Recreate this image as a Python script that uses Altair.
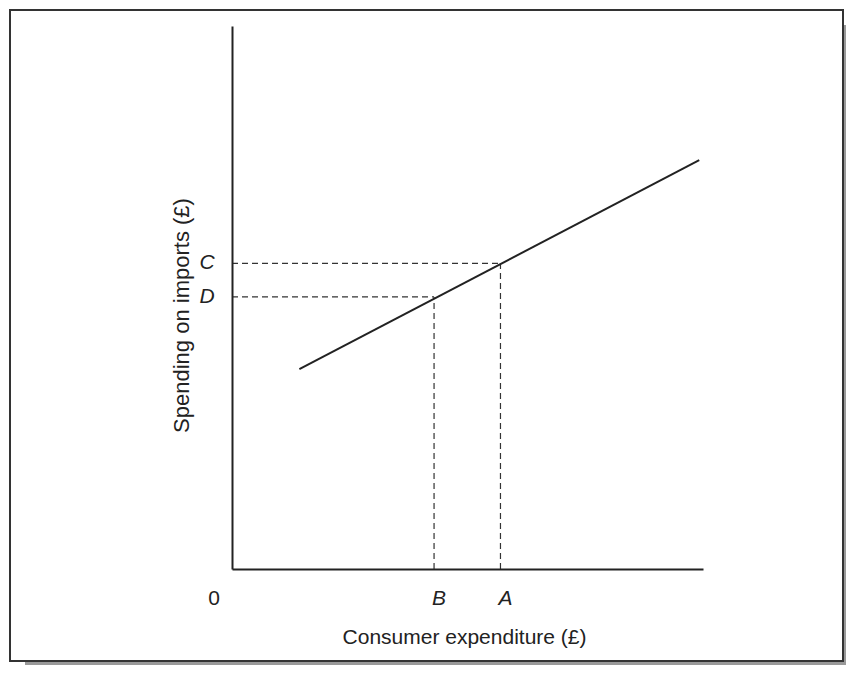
import altair as alt
import pandas as pd

# Import function line (consumer expenditure -> spending on imports)
line_x = [1.43, 9.92]
line_y = [3.68, 7.53]

# Marked points
exp_names = ["A", "B"]
exp_values = [5.70, 4.29]
imp_names = ["C", "D"]
imp_values = [5.63, 5.01]

x_title = "Consumer expenditure (£)"
y_title = "Spending on imports (£)"

FONT = "Liberation Sans"
INK = "#222222"

xs = alt.Scale(domain=[0, 10], nice=False, zero=False)
ys = alt.Scale(domain=[0, 10], nice=False, zero=False)

x_axis = alt.Axis(title=x_title, domain=True, ticks=False, labels=False, grid=False,
                  domainColor=INK, domainWidth=2, titleFont=FONT, titleFontSize=21,
                  titleFontWeight="normal", titleColor=INK, titleX=232, titleY=74,
                  titleBaseline="alphabetic", titleAlign="center", zindex=1)
y_axis = alt.Axis(title=y_title, domain=True, ticks=False, labels=False, grid=False,
                  domainColor=INK, domainWidth=2, titleFont=FONT, titleFontSize=22,
                  titleFontWeight="normal", titleColor=INK, titleX=-44, titleY=289,
                  titleBaseline="alphabetic", titleAlign="center", titleAngle=270, zindex=1)

one = pd.DataFrame({"k": [0]})

shadow = alt.Chart(one).mark_rect(fill="#999999", strokeWidth=0).encode(
    x=alt.value(-207), x2=alt.value(640), y=alt.value(-1), y2=alt.value(660))
box = alt.Chart(one).mark_rect(fill="white", stroke="#333333", strokeWidth=2).encode(
    x=alt.value(-222), x2=alt.value(611), y=alt.value(-16), y2=alt.value(635))

line_df = pd.DataFrame({"x": line_x, "y": line_y})
line = alt.Chart(line_df).mark_line(color=INK, strokeWidth=2).encode(
    x=alt.X("x:Q", scale=xs, axis=x_axis),
    y=alt.Y("y:Q", scale=ys, axis=y_axis))

h_df = pd.DataFrame({"x": [0, 0], "x2": exp_values, "y": imp_values})
h_rules = alt.Chart(h_df).mark_rule(color="#333333", strokeWidth=1.2, strokeDash=[6, 4]).encode(
    x=alt.X("x:Q", scale=xs, axis=x_axis), x2="x2:Q",
    y=alt.Y("y:Q", scale=ys, axis=y_axis))

v_df = pd.DataFrame({"x": exp_values, "y": [0, 0], "y2": imp_values})
v_rules = alt.Chart(v_df).mark_rule(color="#333333", strokeWidth=1.2, strokeDash=[6, 4]).encode(
    x=alt.X("x:Q", scale=xs, axis=x_axis),
    y=alt.Y("y:Q", scale=ys, axis=y_axis), y2="y2:Q")

ylab_df = pd.DataFrame({"name": imp_names, "x": [0, 0], "y": imp_values})
ylabs = alt.Chart(ylab_df).mark_text(font=FONT, fontSize=21, fontStyle="italic", color=INK,
                                     align="center", baseline="middle", dx=-25).encode(
    x=alt.X("x:Q", scale=xs, axis=x_axis), y=alt.Y("y:Q", scale=ys, axis=y_axis), text="name:N")

xlab_df = pd.DataFrame({"name": exp_names, "x": exp_values, "y": [0, 0]})
xlabs = alt.Chart(xlab_df).mark_text(font=FONT, fontSize=21, fontStyle="italic", color=INK,
                                     align="center", baseline="middle", dx=5, dy=30).encode(
    x=alt.X("x:Q", scale=xs, axis=x_axis), y=alt.Y("y:Q", scale=ys, axis=y_axis), text="name:N")

zero_df = pd.DataFrame({"name": ["0"], "x": [0], "y": [0]})
zero = alt.Chart(zero_df).mark_text(font=FONT, fontSize=21, color=INK,
                                    align="center", baseline="middle", dx=-18, dy=30).encode(
    x=alt.X("x:Q", scale=xs, axis=x_axis), y=alt.Y("y:Q", scale=ys, axis=y_axis), text="name:N")

chart = alt.layer(shadow, box, h_rules, v_rules, line, ylabs, xlabs, zero).properties(
    width=471, height=543,
    padding={"left": 224, "top": 18, "right": 143, "bottom": 96},
    autosize=alt.AutoSizeParams(type="none"),
    background="white",
).configure_view(stroke=None)

chart.save("out.html", embed_options={"renderer": "svg", "actions": False})
